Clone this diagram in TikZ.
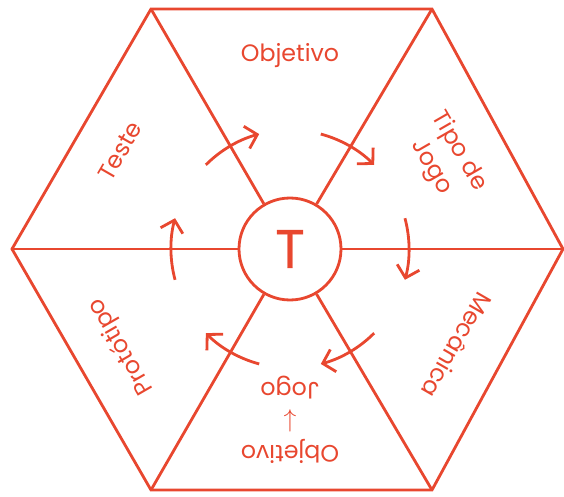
\documentclass[tikz,border=0pt]{standalone}
\usepackage{fontspec}
\setmainfont{Poppins}
\newfontfamily\hubfont{Poppins}[FakeBold=0.8]
\usetikzlibrary{arrows.meta}
\definecolor{CoralRed}{HTML}{E8472F}

\begin{document}
\begin{tikzpicture}[
    hub/.style={circle, draw=CoralRed, line width=1.6pt, minimum size=2.04cm, inner sep=0pt, text=CoralRed, font=\hubfont\fontsize{31}{31}\selectfont},
    lbl/.style={text=CoralRed, align=center, inner sep=0pt, font=\fontsize{13.5}{18}\selectfont},
    rim/.style={draw=CoralRed, line width=1.6pt, line join=miter},
    cyc/.style={draw=CoralRed, line width=1.6pt, -{Straight Barb[length=2.2mm,width=4.6mm]}}
  ]
    \useasboundingbox (0,0) rectangle (11.28,9.92);

    % hexagon corners
    \coordinate (vR) at (11.26,4.94);
    \coordinate (vTR) at (8.64,9.74);
    \coordinate (vTL) at (3.02,9.74);
    \coordinate (vL) at (0.24,4.94);
    \coordinate (vBL) at (3.02,0.12);
    \coordinate (vBR) at (8.64,0.12);
    \draw[rim] (vR) -- (vTR) -- (vTL) -- (vL) -- (vBL) -- (vBR) -- cycle;

    \node[hub] (c) at (5.8,4.94) {T};

    % spokes
    \draw[rim] (c) -- (vR);
    \draw[rim] (c) -- (vTR);
    \draw[rim] (c) -- (vTL);
    \draw[rim] (c) -- (vL);
    \draw[rim] (c) -- (vBL);
    \draw[rim] (c) -- (vBR);

    % cycle arrows
    \draw[cyc] ([shift={(135:2.38)}]c.center) arc (135:105:2.38);
    \draw[cyc] ([shift={(75:2.38)}]c.center) arc (75:45:2.38);
    \draw[cyc] ([shift={(15:2.38)}]c.center) arc (15:-15:2.38);
    \draw[cyc] ([shift={(-45:2.38)}]c.center) arc (-45:-75:2.38);
    \draw[cyc] ([shift={(-105:2.38)}]c.center) arc (-105:-135:2.38);
    \draw[cyc] ([shift={(-165:2.38)}]c.center) arc (-165:-195:2.38);

    % sector labels
    \node[lbl] (obj) at ([shift={(90:3.86)}]c.center) {Objetivo};
    \node[lbl, rotate=-60] (tipo) at ([shift={(30:3.58)}]c.center) {Tipo de\\Jogo};
    \node[lbl, rotate=-120] (mec) at ([shift={(-30:3.86)}]c.center) {Mecânica};
    \node[lbl, rotate=180] (objj) at ([shift={(-90:3.42)}]c.center) {Objetivo\\$\downarrow$\\Jogo};
    \node[lbl, rotate=120] (proto) at ([shift={(-150:3.9)}]c.center) {Protótipo};
    \node[lbl, rotate=60] (teste) at ([shift={(150:3.92)}]c.center) {Teste};
  \end{tikzpicture}
\end{document}
